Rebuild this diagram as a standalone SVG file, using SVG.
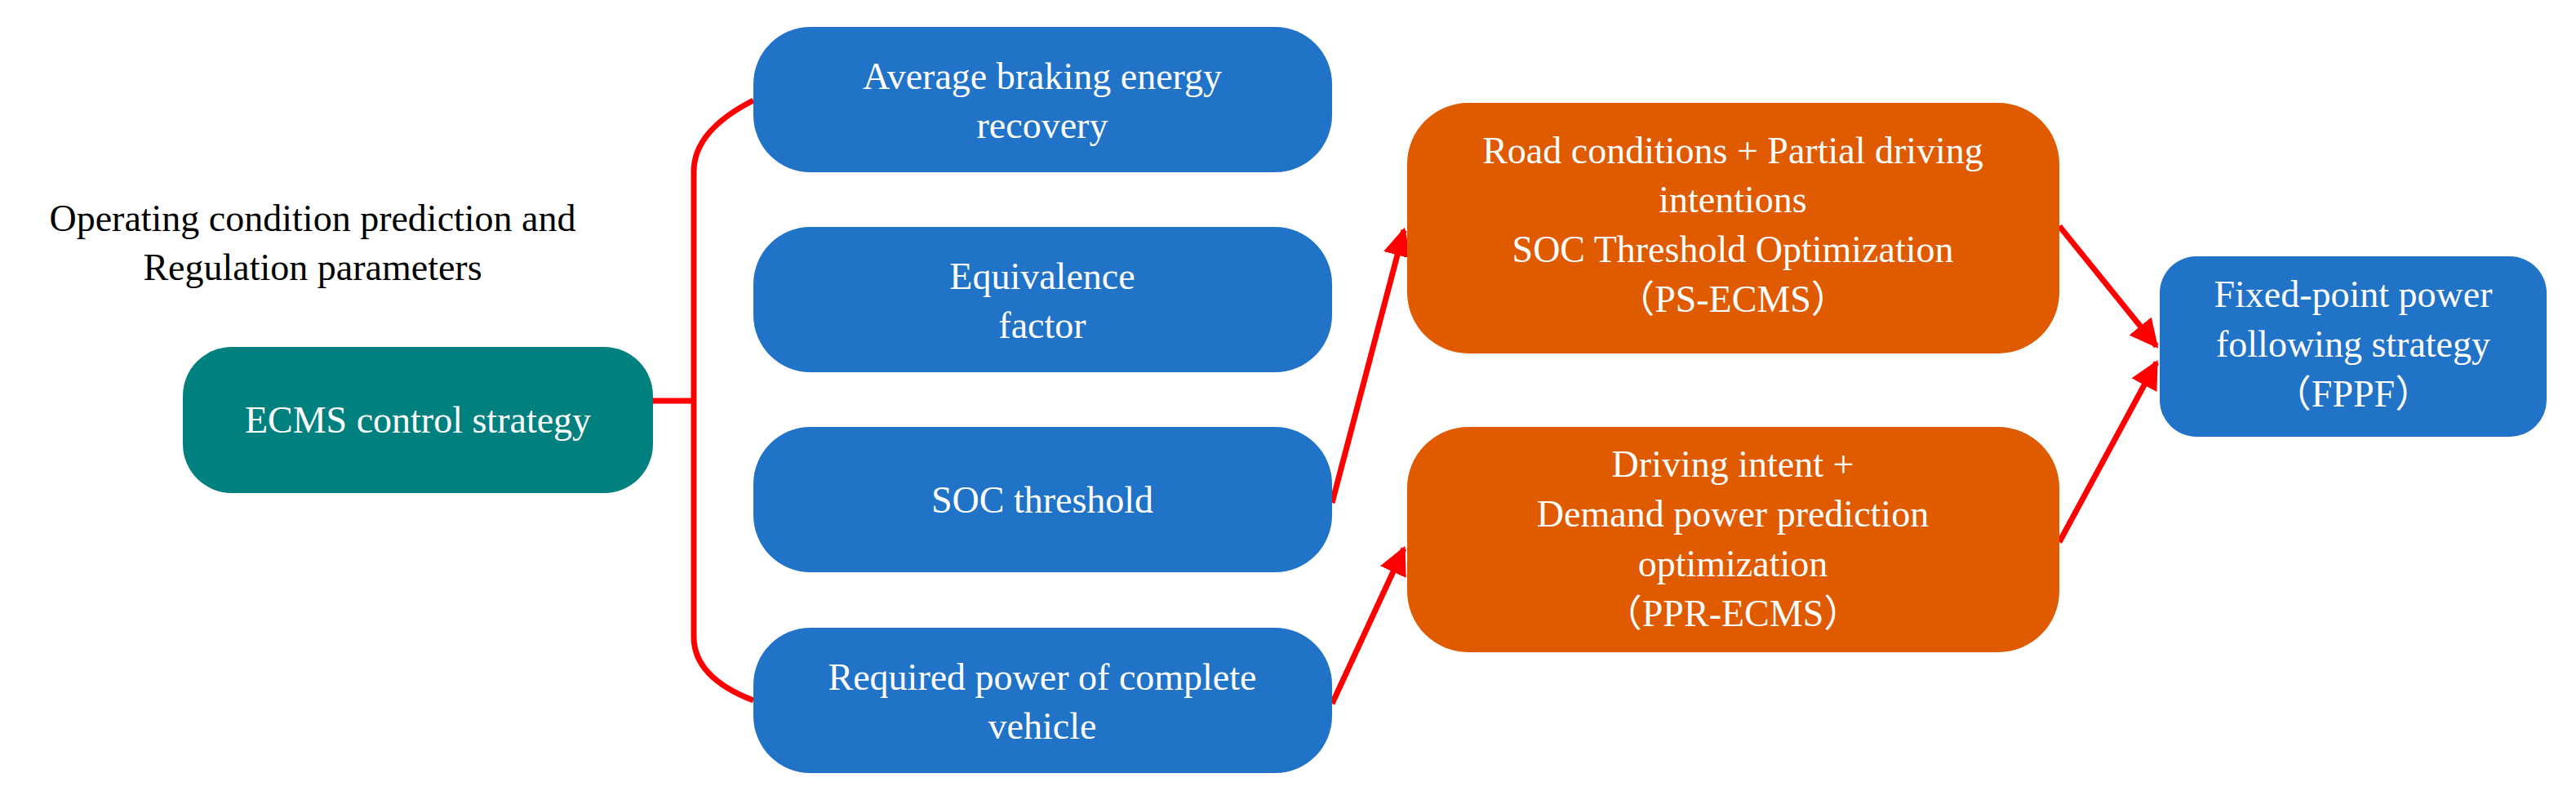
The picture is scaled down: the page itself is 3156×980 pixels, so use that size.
<svg xmlns="http://www.w3.org/2000/svg" width="3156" height="980" viewBox="0 0 3156 980">
<style>
text{font-family:"Liberation Serif","Noto Sans CJK SC",serif;font-size:46px;text-anchor:middle}
.w{fill:#fff}
.blue{fill:#2173C8}
.teal{fill:#00817F}
.orange{fill:#E05A00}
.c{fill:none;stroke:#FF0000;stroke-width:7}
</style>
<defs>
<marker id="ah" viewBox="0 0 10 10" refX="9" refY="5" markerWidth="5" markerHeight="5" orient="auto" markerUnits="strokeWidth"><path d="M0,0L10,5L0,10z" fill="#FF0000"/></marker>
</defs>
<text x="383" y="283">Operating condition prediction and</text>
<text x="383" y="343">Regulation parameters</text>
<g id="connectors">
<path class="c" d="M799,491H850"/>
<path class="c" d="M923,123Q850,160 850,210V780Q850,830 923,858"/>
<path class="c" d="M1632,616L1720,282" marker-end="url(#ah)"/>
<path class="c" d="M1632,862L1720,672" marker-end="url(#ah)"/>
<path class="c" d="M2523,277L2642,424" marker-end="url(#ah)"/>
<path class="c" d="M2523,664L2642,444" marker-end="url(#ah)"/>
</g>
<g id="ecms"><rect class="teal" x="224" y="425" width="576" height="179" rx="60"/><text class="w" x="512" y="530">ECMS control strategy</text></g>
<g id="braking"><rect class="blue" x="923" y="33" width="709" height="178" rx="70"/><text class="w" x="1277" y="109">Average braking energy</text><text class="w" x="1277" y="169">recovery</text></g>
<g id="equiv"><rect class="blue" x="923" y="278" width="709" height="178" rx="70"/><text class="w" x="1277" y="354">Equivalence</text><text class="w" x="1277" y="414">factor</text></g>
<g id="soc"><rect class="blue" x="923" y="523" width="709" height="178" rx="70"/><text class="w" x="1277" y="628">SOC threshold</text></g>
<g id="power"><rect class="blue" x="923" y="769" width="709" height="178" rx="70"/><text class="w" x="1277" y="845">Required power of complete</text><text class="w" x="1277" y="905">vehicle</text></g>
<g id="psecms"><rect class="orange" x="1724" y="126" width="799" height="307" rx="75"/>
<text class="w" x="2123" y="200">Road conditions + Partial driving</text>
<text class="w" x="2123" y="260">intentions</text>
<text class="w" x="2123" y="321">SOC Threshold Optimization</text>
<text class="w" x="2123" y="382">（PS-ECMS）</text></g>
<g id="pprecms"><rect class="orange" x="1724" y="523" width="799" height="276" rx="75"/>
<text class="w" x="2123" y="584">Driving intent +</text>
<text class="w" x="2123" y="645">Demand power prediction</text>
<text class="w" x="2123" y="706">optimization</text>
<text class="w" x="2123" y="767">（PPR-ECMS）</text></g>
<g id="fppf"><rect class="blue" x="2646" y="314" width="474" height="221" rx="45"/>
<text class="w" x="2883" y="376">Fixed-point power</text>
<text class="w" x="2883" y="437">following strategy</text>
<text class="w" x="2883" y="498">（FPPF）</text></g>
</svg>
